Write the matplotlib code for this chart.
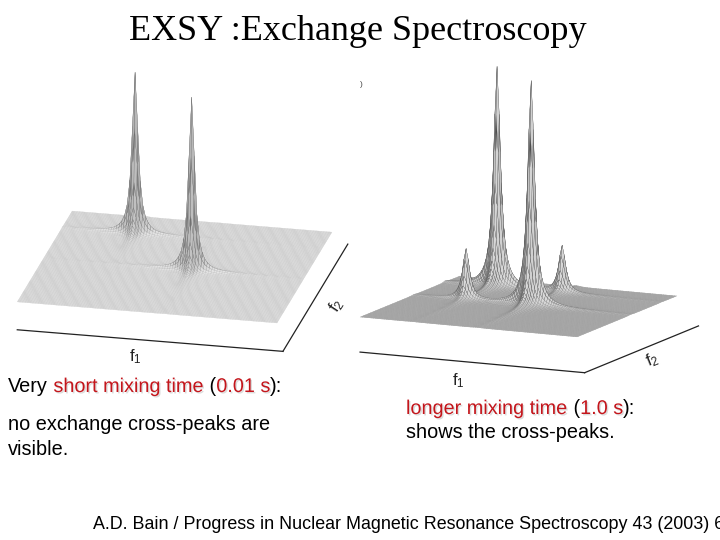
import numpy as np
import matplotlib
matplotlib.use("Agg")
import matplotlib.pyplot as plt
import matplotlib.patheffects as pe
from matplotlib.text import Annotation
from matplotlib.colors import LightSource

# peaks: position in the f1 / f2 window (0..1), height relative to tallest
short_f1 = [0.285, 0.57]
short_f2 = [0.825, 0.485]
short_height = [0.93, 1.0]
short_width = 0.014   # lorentzian half width

long_f1 = [0.24, 0.535, 0.24, 0.535]
long_f2 = [0.85, 0.54, 0.54, 0.85]
long_height = [0.98, 1.0, 0.22, 0.205]
long_width = 0.019

npts = 101

W, H = 720, 540
RED = "#c4161c"
plt.rcParams["font.family"] = ["Liberation Sans", "DejaVu Sans"]

fig = plt.figure(figsize=(W / 100, H / 100), dpi=100)


def spectrum(f1, f2, heights, width):
    g = np.linspace(0, 1, npts)
    X, Y = np.meshgrid(g, g)
    Z = np.zeros_like(X)
    for a, b, h in zip(f1, f2, heights):
        a = np.round(a * (npts - 1)) / (npts - 1)
        b = np.round(b * (npts - 1)) / (npts - 1)
        Z += h / ((1 + ((X - a) / width) ** 2) * (1 + ((Y - b) / width) ** 2))
    return X, Y, Z


def mesh_edges(Z, flat, peak):
    # mesh lines darker where the surface rises (like the matlab mesh)
    zc = (Z[:-1, :-1] + Z[1:, :-1] + Z[:-1, 1:] + Z[1:, 1:]).ravel() / 4
    t = np.clip(zc / 0.04, 0, 1)
    g = flat + (peak - flat) * t
    return np.column_stack([g, g, g, np.ones_like(g)])


def panel(center, S, elev, azim, aspect, zmin, spec, face, edge_flat, edge_peak, lw,
          light=None, x_end=1.0, y_end=1.0):
    # square 3d axes; box centre lands at centre (pixels, y down), 1 box unit = 1 px
    cx, cy = center
    frac = 0.095 / 0.185
    left = cx - frac * S
    bottom = (H - cy) - frac * S
    ax = fig.add_axes([left / W, bottom / H, S / W, S / H], projection="3d")
    ax.set_proj_type("ortho")
    ax.patch.set_visible(False)
    X, Y, Z = spec
    ax.plot_surface(X, Y, Z, rstride=1, cstride=1, color=face,
                    edgecolor=mesh_edges(Z, edge_flat, edge_peak),
                    linewidth=lw, shade=light is not None, lightsource=light,
                    antialiased=True)
    ax.plot([0, x_end], [0, 0], [zmin, zmin], color="#222222", lw=0.9)
    ax.plot([x_end, x_end], [0, y_end], [zmin, zmin], color="#222222", lw=0.9)
    ax.set_xlim(0, 1)
    ax.set_ylim(0, 1)
    ax.set_zlim(zmin, 1.0)
    zoom = np.linalg.norm(aspect) * 0.185 / (0.1 * S * 1.8294640721620434 * 25 / 24)
    ax.set_box_aspect(aspect, zoom=zoom)
    ax.view_init(elev=elev, azim=azim)
    ax.set_axis_off()
    return ax


# left: short mixing time
panel((174.6, 194.4), 380, 21.5, -77.5, (266, 254, 216), -0.161,
      spectrum(short_f1, short_f2, short_height, short_width),
      face="#e4e4e4", edge_flat=0.78, edge_peak=0.4, lw=0.15,
      light=LightSource(azdeg=168, altdeg=60), x_end=1.023, y_end=1.18)

# right: long mixing time
panel((518.5, 211.7), 380, 11.2, -64.7, (240, 233.7, 264.7), -0.156,
      spectrum(long_f1, long_f2, long_height, long_width),
      face="#dadada", edge_flat=0.6, edge_peak=0.3, lw=0.15,
      light=LightSource(azdeg=155, altdeg=25), x_end=1.035, y_end=1.14)


def fx(x):
    return x / W


def fy(y):
    return 1 - y / H


# axis labels
lab = dict(fontsize=12, color="#222222", ha="center", va="center")
fig.text(fx(135), fy(357), r"$\mathregular{f_1}$", **lab)
fig.text(fx(337), fy(306), r"$\mathregular{f_2}$", rotation=57, **lab)
fig.text(fx(458), fy(381), r"$\mathregular{f_1}$", **lab)
fig.text(fx(652), fy(360), r"$\mathregular{f_2}$", rotation=22, **lab)
fig.text(fx(361), fy(85), ")", fontsize=6, color="#444444", ha="center", va="center")

# title
fig.text(fx(358), fy(40), "EXSY :Exchange Spectroscopy", family="Liberation Serif",
         fontsize=26, ha="center", va="baseline")

shadow = [pe.withSimplePatchShadow(offset=(1, -1), shadow_rgbFace="#999999", alpha=0.35)]
BODY = 14.3


def rich_line(x, y, pieces):
    prev = None
    for s, red in pieces:
        kw = dict(fontsize=BODY, color=RED if red else "black")
        if red:
            kw["path_effects"] = shadow
        if prev is None:
            prev = fig.text(fx(x), fy(y), s, va="baseline", ha="left", **kw)
        else:
            prev = Annotation(s, xy=(1, 0), xycoords=prev, va="bottom", ha="left", **kw)
            fig.add_artist(prev)


rich_line(8, 392, [("Very", False), (" short mixing time", True), (" (", False),
                   ("0.01 s", True), ("):", False)])
fig.text(fx(8), fy(430), "no exchange cross-peaks are", fontsize=BODY, va="baseline")
fig.text(fx(8), fy(455), "visible.", fontsize=BODY, va="baseline")

rich_line(406, 414, [("longer mixing time", True), (" (", False), ("1.0 s", True), ("):", False)])
fig.text(fx(406), fy(438), "shows the cross-peaks.", fontsize=BODY, va="baseline")

fig.text(fx(93), fy(529), "A.D. Bain / Progress in Nuclear Magnetic Resonance Spectroscopy 43 (2003) 6",
         fontsize=12.9, va="baseline")

fig.savefig("out.png", dpi=100)
